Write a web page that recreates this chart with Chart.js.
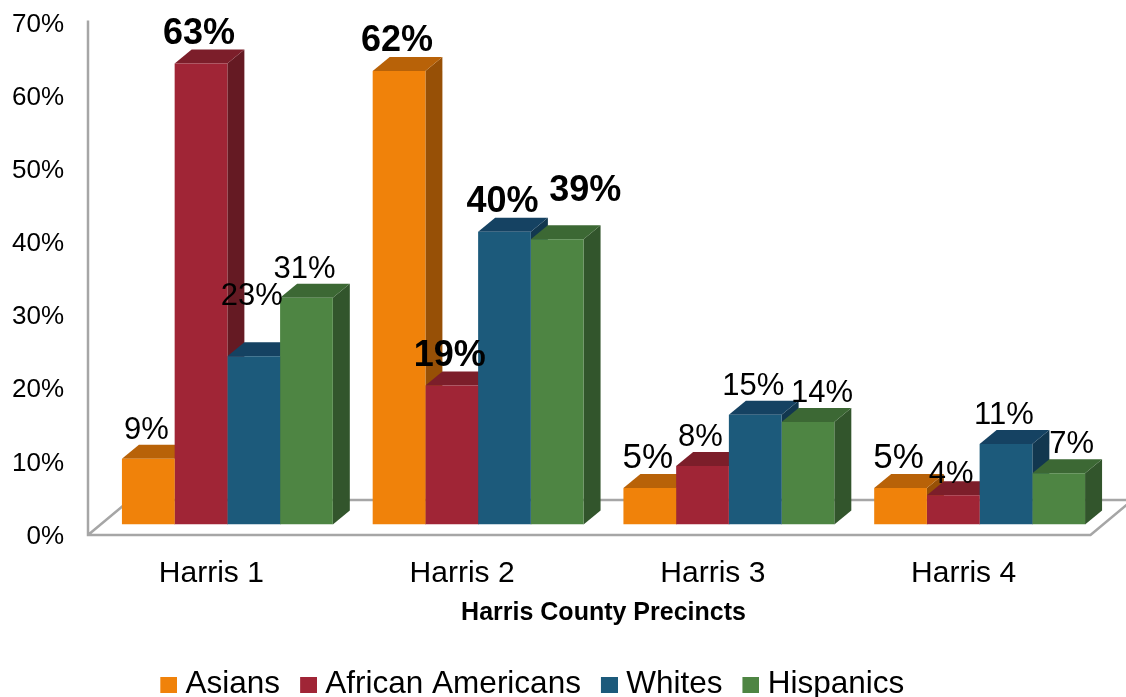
<!DOCTYPE html>
<html>
<head>
<meta charset="utf-8">
<script src="https://cdn.jsdelivr.net/npm/chart.js@4.4.1/dist/chart.umd.min.js"></script>
<style>
  html, body { margin: 0; padding: 0; background: #ffffff; }
  #wrap { width: 1126px; height: 697px; position: relative; }
</style>
</head>
<body>
<div id="wrap"><canvas id="c" width="1126" height="697"></canvas></div>
<script>
// ---------------- data ----------------
const categories = ['Harris 1', 'Harris 2', 'Harris 3', 'Harris 4'];
const seriesNames = ['Asians', 'African Americans', 'Whites', 'Hispanics'];
const asians = [9, 62, 5, 5];
const africanAmericans = [63, 19, 8, 4];
const whites = [23, 40, 15, 11];
const hispanics = [31, 39, 14, 7];
const yTickValues = [0, 10, 20, 30, 40, 50, 60, 70];
const xAxisTitle = 'Harris County Precincts';

// ---------------- styles ----------------
const frontColors = ['#f0820a', '#a02536', '#1c5a7b', '#4e8543'];
const topColors   = ['#b86208', '#7c1e2a', '#154262', '#3c6834'];
const sideColors  = ['#975006', '#651a23', '#12374f', '#32552c'];
// label style per series/category: b = bold large, n = normal, L = large normal
const labelStyles = [
  ['n', 'b', 'L', 'L'],
  ['b', 'b', 'n', 'n'],
  ['n', 'b', 'n', 'n'],
  ['n', 'b', 'n', 'n']
];
// manual label nudges [dx, dy] per series/category
const labelNudges = [
  [[0, 0], [0, 0], [0, 0], [0, 0]],
  [[0, 0], [0, 0], [0, 0], [0, 8]],
  [[0, -31], [0, 0], [0, 0], [0, 0]],
  [[0, 0], [30, -18], [16, 0], [15, 0]]
];
const FONT = '"Liberation Sans", Arial, Helvetica, sans-serif';
const DEPTH_X = 17, DEPTH_Y = 14;

const seriesValues = [asians, africanAmericans, whites, hispanics];

// legend marker images: square placed on the right part so it sits close to its text
function legendMarker(color) {
  const cv = document.createElement('canvas');
  cv.width = 32; cv.height = 16;
  const c = cv.getContext('2d');
  c.fillStyle = color;
  c.fillRect(15, 0, 17, 16);
  return cv;
}
const legendMarkers = frontColors.map(legendMarker);

const bar3d = {
  id: 'bar3d',
  afterLayout(chart) {
    const lg = chart.legend;
    if (lg) { lg.left -= 24; lg.right -= 24; }
  },
  beforeDatasetsDraw(chart) {
    const { ctx, scales: { x, y }, chartArea } = chart;
    const y0 = y.getPixelForValue(0);
    const yTop = y.getPixelForValue(70);
    const wallX = chartArea.left - 14;
    const floorFront = y0 + 10.5;
    const floorBack = y0 - 24.5;
    const floorDX = 42;
    const floorRight = chartArea.right - 14.5;
    ctx.save();
    ctx.strokeStyle = '#a6a6a6';
    ctx.lineWidth = 2.5;
    ctx.lineCap = 'butt';
    ctx.beginPath();
    ctx.moveTo(wallX, yTop + 8);
    ctx.lineTo(wallX, floorFront);
    ctx.lineTo(floorRight, floorFront);
    ctx.lineTo(floorRight + floorDX, floorBack);
    ctx.lineTo(wallX + floorDX, floorBack);
    ctx.lineTo(wallX, floorFront);
    ctx.stroke();

    const metas = chart.getSortedVisibleDatasetMetas();
    // side faces
    metas.forEach((meta) => {
      const di = meta.index;
      meta.data.forEach((bar) => {
        const p = bar.getProps(['x', 'y', 'base', 'width'], true);
        const x1 = p.x + p.width / 2;
        ctx.fillStyle = sideColors[di];
        ctx.beginPath();
        ctx.moveTo(x1, p.y);
        ctx.lineTo(x1 + DEPTH_X, p.y - DEPTH_Y);
        ctx.lineTo(x1 + DEPTH_X, p.base - DEPTH_Y);
        ctx.lineTo(x1, p.base);
        ctx.closePath();
        ctx.fill();
      });
    });
    // top faces
    metas.forEach((meta) => {
      const di = meta.index;
      meta.data.forEach((bar) => {
        const p = bar.getProps(['x', 'y', 'base', 'width'], true);
        const x0 = p.x - p.width / 2;
        const x1 = p.x + p.width / 2;
        ctx.fillStyle = topColors[di];
        ctx.beginPath();
        ctx.moveTo(x0, p.y);
        ctx.lineTo(x1, p.y);
        ctx.lineTo(x1 + DEPTH_X, p.y - DEPTH_Y);
        ctx.lineTo(x0 + DEPTH_X, p.y - DEPTH_Y);
        ctx.closePath();
        ctx.fill();
      });
    });
    ctx.restore();
  },
  afterDatasetsDraw(chart) {
    const { ctx } = chart;
    ctx.save();
    ctx.fillStyle = '#000000';
    ctx.textAlign = 'center';
    ctx.textBaseline = 'alphabetic';
    chart.getSortedVisibleDatasetMetas().forEach((meta) => {
      const di = meta.index;
      const values = chart.data.datasets[di].data;
      meta.data.forEach((bar, j) => {
        const p = bar.getProps(['x', 'y'], true);
        const st = labelStyles[di][j];
        const nudge = labelNudges[di][j];
        if (st === 'b') ctx.font = 'bold 36px ' + FONT;
        else if (st === 'L') ctx.font = '35px ' + FONT;
        else ctx.font = '31px ' + FONT;
        ctx.fillText(values[j] + '%', p.x - 2 + nudge[0], p.y - DEPTH_Y - 6 + nudge[1]);
      });
    });
    ctx.restore();
  }
};

const datasets = seriesNames.map((name, i) => ({
  label: name,
  data: seriesValues[i],
  backgroundColor: frontColors[i],
  borderWidth: 0,
  barPercentage: 1.0,
  categoryPercentage: 0.841
}));

new Chart(document.getElementById('c'), {
  type: 'bar',
  data: { labels: categories, datasets },
  plugins: [bar3d],
  options: {
    responsive: false,
    animation: false,
    layout: { padding: { top: 12.4, right: 21, bottom: -13.5, left: 0 } },
    plugins: {
      tooltip: { enabled: false },
      legend: {
        position: 'bottom',
        labels: {
          color: '#000000',
          font: { family: FONT, size: 31.5 },
          usePointStyle: true,
          boxWidth: 17,
          boxHeight: 16,
          padding: 12.5,
          generateLabels(chart) {
            const items = Chart.defaults.plugins.legend.labels.generateLabels(chart);
            items.forEach((it) => { it.pointStyle = legendMarkers[it.datasetIndex]; });
            return items;
          }
        }
      }
    },
    scales: {
      x: {
        grid: { display: false, drawTicks: false },
        border: { display: false },
        afterFit(scale) {
          scale.height = 132;
        },
        ticks: {
          color: '#000000',
          font: { family: FONT, size: 30 },
          padding: 31,
          labelOffset: -16,
          maxRotation: 0
        },
        title: {
          display: true,
          text: xAxisTitle,
          color: '#000000',
          font: { family: FONT, size: 25, weight: 'bold' },
          padding: { top: 6, bottom: 28 }
        }
      },
      y: {
        min: 0,
        max: 70,
        grid: { display: false, drawTicks: false },
        border: { display: false },
        afterBuildTicks(scale) {
          scale.ticks = yTickValues.map((v) => ({ value: v }));
        },
        afterFit(scale) {
          scale.width = 102;
          scale.paddingTop = 0;
          scale.paddingBottom = 0;
        },
        ticks: {
          color: '#000000',
          font: { family: FONT, size: 26 },
          padding: 38,
          labelOffset: 12,
          callback: (v) => v + '%'
        }
      }
    }
  }
});
</script>
</body>
</html>
